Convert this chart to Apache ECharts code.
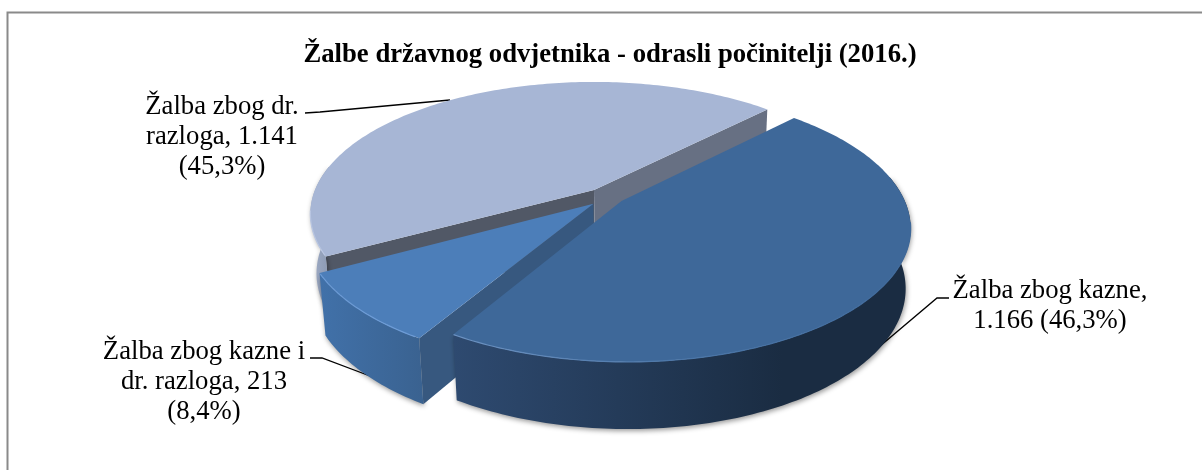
<!DOCTYPE html>
<html><head><meta charset="utf-8">
<style>html,body{margin:0;padding:0;background:#fff}#c{width:1202px;height:470px}</style>
<script src="https://cdn.jsdelivr.net/npm/echarts@6/dist/echarts.min.js"></script>
</head><body><div id="c"></div>
<script>
const chartTitle = 'Žalbe državnog odvjetnika - odrasli počinitelji (2016.)';
const categories = ['Žalba zbog kazne', 'Žalba zbog kazne i dr. razloga', 'Žalba zbog dr. razloga'];
const values = [1166, 213, 1141];
const labelTexts = ['Žalba zbog kazne,\n1.166 (46,3%)', 'Žalba zbog kazne i\ndr. razloga, 213\n(8,4%)', 'Žalba zbog dr.\nrazloga, 1.141\n(45,3%)'];

const FONT = '"Liberation Serif","Times New Roman",serif';
const C = {cx:594, cy:190, rx:279, ry:127.5, k:0.18, startDeg:-45.5};
const explode = [[0.097,0.085],[-0.002,0.105],[0,0]];
const labelPos = [[1050,306],[204,382],[222,137]];
const leaders = [
  [[860,363],[937,298],[949,298]],
  [[370,376],[322,358],[310,358]],
  [[450,100],[320,112],[305,113]]
];
const tops = ['#3e6899','#4c7eb9','#a7b6d5'];
const cutWall = [null,'#37587f',null];
const rimGrad = [
  [[0,'#2e4a70'],[0.72,'#1a2c42'],[1,'#1a2c42']],
  [[0,'#4171a9'],[1,'#3a6290']],
  [[0,'#a1aec8'],[1,'#8492ab']]
];
const rimHi = [
  [[0,'#6c92c2'],[0.5,'#4b76a8'],[1,'#3e6899']],
  [[0,'#6c9bd6'],[1,'#6c9bd6']],
  [[0,'#b9c6e2'],[1,'#b9c6e2']]
];

function proj(u,v,e){
  const U=u+e[0], V=v+e[1], d=1-C.k*V;
  return [C.cx+C.rx*U/d, C.cy+C.ry*V/d];
}
function drop(p){
  return [p[0]+(641-p[0])*0.0186, p[1]+64+(p[1]-300)*0.05];
}
function arc(a0,a1,e){
  const pts=[], n=Math.max(4,Math.ceil(Math.abs(a1-a0)));
  for(let i=0;i<=n;i++){const a=(a0+(a1-a0)*i/n)*Math.PI/180;pts.push(proj(Math.cos(a),Math.sin(a),e));}
  return pts;
}
const total = values.reduce((a,b)=>a+b,0);
function angles(i){
  let s=C.startDeg;
  for(let j=0;j<i;j++) s+=values[j]/total*360;
  return [s, s+values[i]/total*360];
}
function poly(points,fill,z,extra){
  return Object.assign({type:'polygon',shape:{points},style:{fill},z2:z,silent:true},extra||{});
}
function lineGrad(stops,x0,x1){
  return new echarts.graphic.LinearGradient(x0,0,x1,0,stops.map(s=>({offset:s[0],color:s[1]})),true);
}
function buildSlice(i){
  const [a0,a1]=angles(i), e=explode[i], children=[];
  const apex=proj(0,0,e), full=arc(a0,a1,e);
  const z=[30,20,10][i];
  const facing=a=>Math.sin(a*Math.PI/180)>-0.2;
  const front=[];
  if(facing(a0)) front.push(a0);
  for(let a=Math.ceil(a0);a<=a1;a++){ if(facing(a)) front.push(a); }
  if(facing(a1)) front.push(a1);
  if(front.length>1){
    const rim=front.map(a=>{const r=a*Math.PI/180;return proj(Math.cos(r),Math.sin(r),e);});
    const low=rim.map(drop).reverse();
    const pts=rim.concat(low), xs=pts.map(p=>p[0]);
    const x0=Math.min(...xs),x1=Math.max(...xs);
    children.push(poly(pts,null,z+1,
      {style:{fill:lineGrad(rimGrad[i],x0,x1),shadowBlur:5,shadowColor:'rgba(0,0,0,0.4)',shadowOffsetX:1,shadowOffsetY:2}}));
  }
  const pA=full[0], pB=full[full.length-1];
  if(i===2){
    children.push(poly([apex,pA,drop(pA),drop(apex)],'#515866',z));
    children.push(poly([apex,pB,drop(pB),drop(apex)],'#677083',z));
  }
  if(i===1){
    children.push(poly([apex,pA,drop(pA),drop(apex)],cutWall[1],z+2));
  }
  children.push(poly([apex].concat(full),tops[i],z+3));
  const hi=[];
  for(let a=Math.ceil(a0);a<=a1;a++){ if(Math.sin(a*Math.PI/180)>0.15) hi.push(proj(Math.cos(a*Math.PI/180),Math.sin(a*Math.PI/180),e)); }
  if(hi.length>1){
    const xs=hi.map(p=>p[0]);
    children.push({type:'polyline',shape:{points:hi},style:{stroke:lineGrad(rimHi[i],Math.min(...xs),Math.max(...xs)),lineWidth:1.2,fill:null},z2:z+4,silent:true});
  }
  return {type:'group',children};
}
const chart=echarts.init(document.getElementById('c'),null,{renderer:'canvas'});
chart.setOption({
  animation:false,
  backgroundColor:'#fff',
  title:{text:chartTitle,left:605,top:37,textAlign:'center',textStyle:{fontFamily:FONT,fontSize:26.7,fontWeight:'bold',color:'#000'}},
  graphic:[{type:'polyline',shape:{points:[[7.5,470],[7.5,12.5],[1202,12.5]]},style:{fill:null,stroke:'#8a8a8a',lineWidth:2},z:-1,silent:true}],
  series:[{
    type:'custom',coordinateSystem:'none',
    data:[0,1,2],
    renderItem:(params,api)=>{
      const i=api.value(0);
      return {type:'polyline',shape:{points:leaders[i]},style:{stroke:'#000',lineWidth:1.3,fill:null},silent:true};
    },
    silent:true,z:1
  },{
    type:'custom',coordinateSystem:'none',
    data:[2,1,0],
    renderItem:(params,api)=>buildSlice(api.value(0)),
    silent:true,z:2
  },{
    type:'custom',coordinateSystem:'none',
    data:[0,1,2],
    renderItem:(params,api)=>{
      const i=api.value(0);
      return {type:'text',style:{text:labelTexts[i],x:labelPos[i][0],y:labelPos[i][1],align:'center',verticalAlign:'middle',
          font:'26.7px '+FONT,lineHeight:30,fill:'#000'},silent:true};
    },
    silent:true,z:3
  }]
});
</script></body></html>
